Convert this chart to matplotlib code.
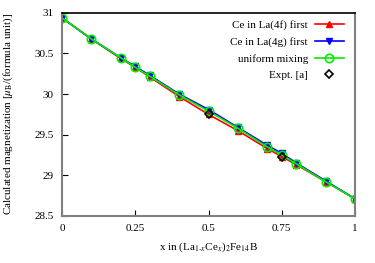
import matplotlib
matplotlib.use("Agg")
import matplotlib.pyplot as plt

plt.rcParams['font.family'] = ['Liberation Serif', 'DejaVu Serif']
plt.rcParams['mathtext.fontset'] = 'stix'

x = [0, 0.1, 0.2, 0.25, 0.3, 0.4, 0.5, 0.6, 0.7, 0.75, 0.8, 0.9, 1.0]
ce_4f = [30.94, 30.68, 30.44, 30.33, 30.21, 29.97, 29.75, 29.55, 29.33, 29.23, 29.13, 28.92, 28.71]
ce_4g = [30.94, 30.68, 30.45, 30.34, 30.23, 30.00, 29.81, 29.59, 29.37, 29.27, 29.15, 28.93, 28.71]
uniform = [30.94, 30.68, 30.45, 30.33, 30.22, 29.99, 29.79, 29.58, 29.35, 29.25, 29.14, 28.92, 28.71]
x_expt = [0.5, 0.75]
expt = [29.76, 29.23]

fig = plt.figure(figsize=(3.75, 2.63), dpi=100)
ax = fig.add_axes([0.165, 0.179, 0.782, 0.772])

ax.plot(x, ce_4f, color='red', lw=1.2, marker='^', ms=4, label='Ce in La(4f) first')
ax.plot(x, ce_4g, color='blue', lw=1.2, marker='v', ms=4, label='Ce in La(4g) first')
ax.plot(x, uniform, color='#00ee00', lw=1.2, marker='o', ms=6, mfc='none', mew=1.2,
        label='uniform mixing')
ax.plot(x_expt, expt, ls='none', color='black', marker='D', ms=4.5, mfc='none', mew=1.2,
        label='Expt. [a]')

ax.set_xlim(0, 1)
ax.set_ylim(28.5, 31)
ax.set_xticks([0, 0.25, 0.5, 0.75, 1])
ax.set_xticklabels(['0', '0.25', '0.5', '0.75', '1'])
ax.set_yticks([28.5, 29, 29.5, 30, 30.5, 31])
ax.set_yticklabels(['28.5', '29', '29.5', '30', '30.5', '31'])
ax.tick_params(direction='in', length=4, labelsize=8, colors='black', pad=6)
ax.tick_params(axis='x', pad=6)

for s in ['left', 'bottom', 'right']:
    ax.spines[s].set_color('#808080')
    ax.spines[s].set_linewidth(1.5)
ax.spines['top'].set_color('black')
ax.spines['top'].set_linewidth(1.2)

ax.set_xlabel(r'x in (La$_{1\text{-}x}$Ce$_x$)$_2$Fe$_{14}$B', fontsize=8, labelpad=5)
ax.set_ylabel(r'Calculated magnetization [$\mu_\mathrm{B}$/(formula unit)]', fontsize=8,
              labelpad=14)

ax.legend(loc='upper right', bbox_to_anchor=(0.985, 1.0), frameon=False, fontsize=8,
          markerfirst=False, handlelength=2.6, labelspacing=0.62, borderaxespad=0.25,
          handletextpad=0.6)

fig.savefig('out.png', dpi=100)
